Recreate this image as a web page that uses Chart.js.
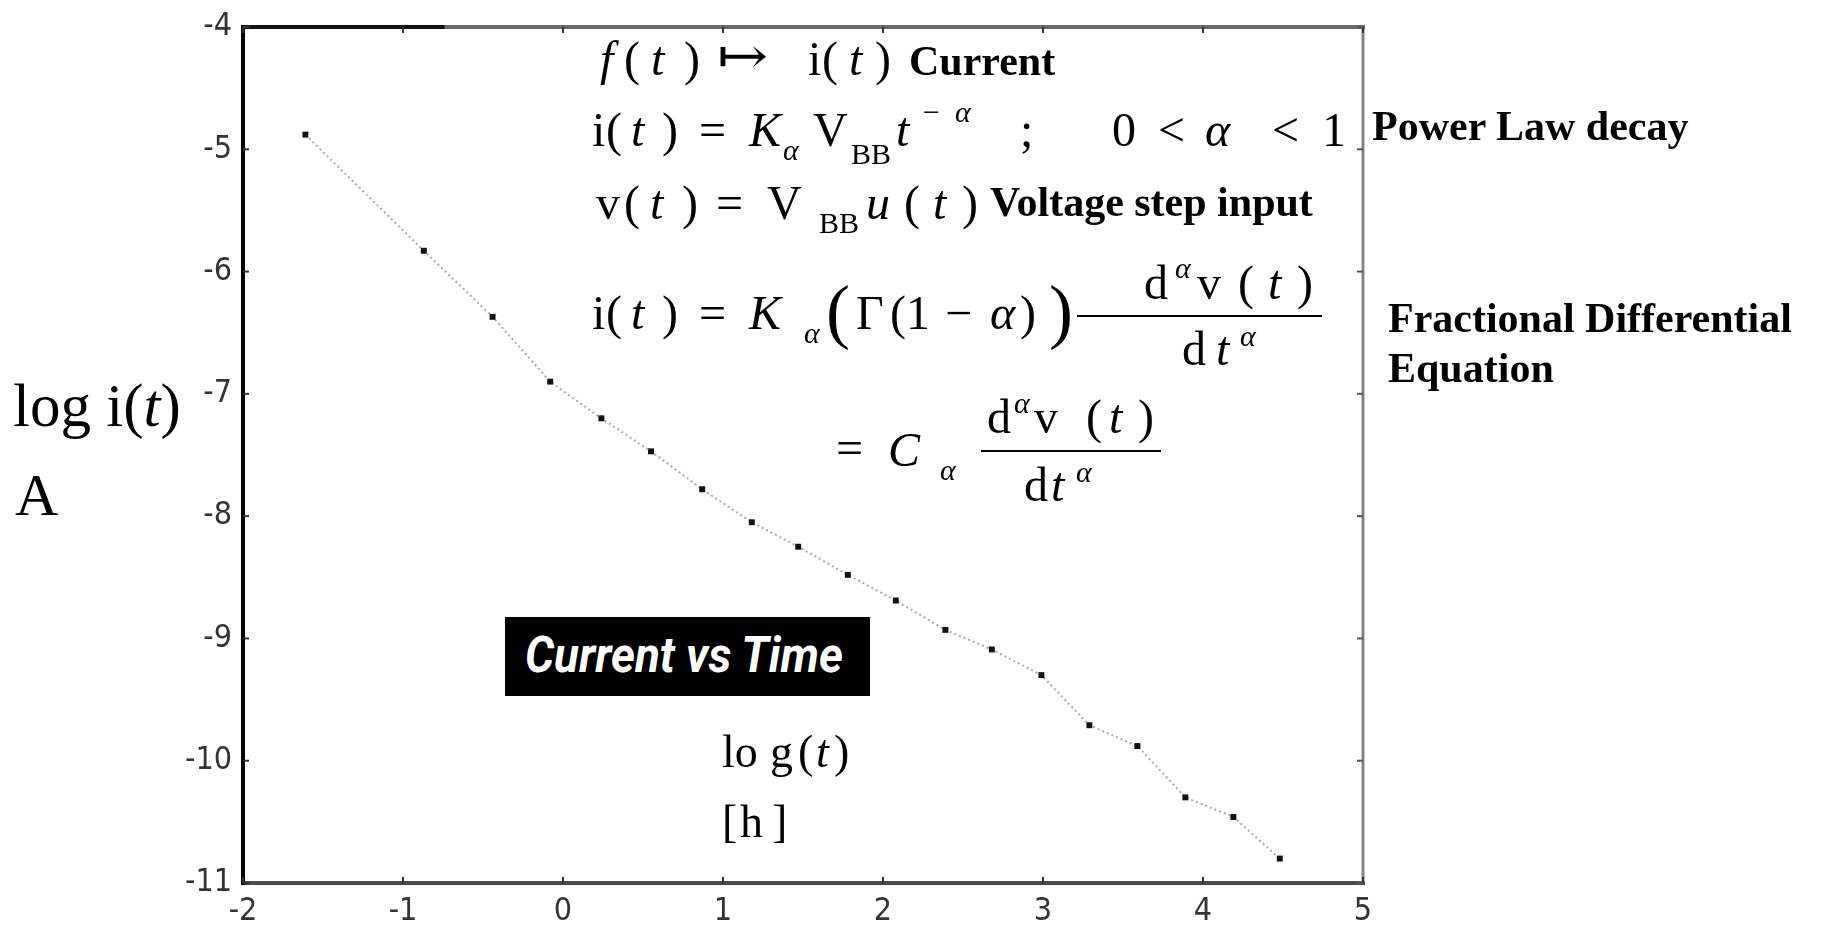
<!DOCTYPE html>
<html>
<head>
<meta charset="utf-8">
<script src="https://cdn.jsdelivr.net/npm/chart.js@4.4.1/dist/chart.umd.min.js"></script>
<style>
html,body{margin:0;padding:0;background:#fff;}
#wrap{position:relative;width:1821px;height:926px;overflow:hidden;background:#fff;}
#c{position:absolute;left:0;top:0;}
.t{position:absolute;white-space:pre;line-height:1;font-family:"Liberation Serif","Times New Roman",serif;color:#000;transform-origin:0 0;}
.b{font-weight:bold;}
.i{font-style:italic;}
.bar{position:absolute;height:2px;background:#000;}
#box{position:absolute;left:505px;top:617px;width:365px;height:79px;background:#000;}
#boxtxt{position:absolute;left:525px;white-space:pre;line-height:1;color:#fff;font-weight:bold;font-style:italic;
  font-family:"Liberation Sans Narrow","Roboto","Liberation Sans",sans-serif;font-size:49px;transform-origin:0 0;}
</style>
</head>
<body>
<div id="wrap">
  <canvas id="c" width="1821" height="926"></canvas>
  <div id="box"></div>
  <div id="boxtxt">Current vs Time</div>
</div>
<script>
// ---- data ----
const xTicks = [-2, -1, 0, 1, 2, 3, 4, 5];
const yTicks = [-4, -5, -6, -7, -8, -9, -10, -11];
const logT = [-1.61, -0.87, -0.44, -0.08, 0.24, 0.55, 0.87, 1.18, 1.47, 1.78, 2.08, 2.39, 2.68, 2.99, 3.29, 3.59, 3.89, 4.19, 4.48];
const logI = [-4.88, -5.83, -6.37, -6.90, -7.20, -7.47, -7.78, -8.05, -8.25, -8.48, -8.69, -8.93, -9.09, -9.30, -9.71, -9.88, -10.30, -10.46, -10.80];

const tickFont = { family: "'Liberation Sans Narrow','DejaVu Sans Condensed','Liberation Sans',sans-serif", size: 32, lineHeight: 1 };

const frame = {
  id: 'frame',
  afterDraw(chart) {
    const { ctx, chartArea: a, scales } = chart;
    ctx.save();
    const seg = (x1, y1, x2, y2, c, w) => {
      ctx.strokeStyle = c; ctx.lineWidth = w;
      ctx.beginPath(); ctx.moveTo(x1, y1); ctx.lineTo(x2, y2); ctx.stroke();
    };
    seg(a.left - 2, a.top, a.right + 2, a.top, '#6a6a6a', 4);
    seg(a.left - 2, a.top, a.left + (a.right - a.left) * 0.18, a.top, '#111', 4);
    seg(a.left - 2, a.bottom, a.right + 2, a.bottom, '#4a4a4a', 4);
    seg(a.right, a.top, a.right, a.bottom, '#858585', 3);
    seg(a.left, a.top - 2, a.left, a.bottom + 2, '#000', 4);
    const L = 6;
    scales.x.ticks.forEach(t => {
      const px = scales.x.getPixelForValue(t.value);
      seg(px, a.bottom, px, a.bottom - L, '#333', 2);
      seg(px, a.top, px, a.top + L, '#333', 2);
    });
    scales.y.ticks.forEach(t => {
      const py = scales.y.getPixelForValue(t.value);
      seg(a.left, py, a.left + L, py, '#333', 2);
      seg(a.right, py, a.right - L, py, '#555', 2);
    });
    ctx.restore();
  }
};

new Chart(document.getElementById('c'), {
  type: 'scatter',
  data: {
    datasets: [{
      data: logT.map((t, i) => ({ x: t, y: logI[i] })),
      showLine: true,
      borderColor: 'rgba(110,110,110,0.6)',
      borderWidth: 2,
      borderDash: [2, 3],
      pointStyle: 'rect',
      pointRadius: 4.2,
      pointBackgroundColor: '#111',
      pointBorderWidth: 0
    }]
  },
  options: {
    responsive: false,
    animation: false,
    devicePixelRatio: 1,
    layout: { padding: { left: 150, right: 458, top: 19, bottom: 0 } },
    plugins: { legend: { display: false }, tooltip: { enabled: false } },
    scales: {
      x: {
        type: 'linear', min: -2, max: 5,
        afterBuildTicks: s => { s.ticks = xTicks.map(v => ({ value: v })); },
        afterFit: s => { s.height = 43; },
        grid: { display: false, drawTicks: false },
        border: { display: false },
        ticks: { padding: 13, font: tickFont, color: '#333', autoSkip: false, maxRotation: 0, callback: v => String(v) }
      },
      y: {
        type: 'linear', min: -11, max: -4,
        afterBuildTicks: s => { s.ticks = yTicks.map(v => ({ value: v })); },
        afterFit: s => { s.width = 93; },
        grid: { display: false, drawTicks: false },
        border: { display: false },
        ticks: { padding: 11, font: tickFont, color: '#333', autoSkip: false, callback: v => String(v) }
      }
    }
  },
  plugins: [frame]
});

// ---- text annotations (real text) ----
const wrap = document.getElementById('wrap');
function put(html, x, base, size, cls, fam, sx) {
  const d = document.createElement('div');
  d.className = 't' + (cls ? ' ' + cls : '');
  d.innerHTML = html;
  d.style.left = x + 'px';
  d.style.fontSize = size + 'px';
  d.style.top = (base - 0.8375 * size) + 'px';
  if (fam) d.style.fontFamily = fam;
  if (sx) d.style.transform = 'scaleX(' + sx + ')';
  wrap.appendChild(d);
  return d;
}
function bar(x1, x2, y) {
  const d = document.createElement('div');
  d.className = 'bar';
  d.style.left = x1 + 'px'; d.style.width = (x2 - x1) + 'px'; d.style.top = (y - 1) + 'px';
  wrap.appendChild(d);
}
const F = 48, S = 30, B = 42;
// line 1
put('f', 600, 75, F, 'i'); put('(', 624, 75, F); put('t', 651, 75, F, 'i'); put(')', 684, 75, F);
put('\u21A6', 717, 73, 50, null, '"DejaVu Serif",serif', 1.22);
put('i', 808, 75, F); put('(', 822, 75, F); put('t', 849, 75, F, 'i'); put(')', 875, 75, F);
put('Current', 909, 75, B, 'b');
// line 2
put('i', 592, 146, F); put('(', 606, 146, F); put('t', 631, 146, F, 'i'); put(')', 662, 146, F);
put('=', 699, 146, F); put('K', 749, 146, F, 'i'); put('\u03B1', 783, 160, S, 'i');
put('V', 813, 146, F); put('B', 851, 164, S); put('B', 871, 164, S);
put('t', 896, 146, F, 'i'); put('\u2212', 923, 122, S); put('\u03B1', 955, 122, S, 'i');
put(';', 1020, 146, F); put('0', 1112, 146, F); put('&lt;', 1158, 146, F);
put('\u03B1', 1205, 146, F, 'i'); put('&lt;', 1272, 146, F); put('1', 1322, 146, F);
put('Power Law decay', 1372, 140, B, 'b');
// line 3
put('v', 596, 219, F); put('(', 624, 219, F); put('t', 650, 219, F, 'i'); put(')', 682, 219, F);
put('=', 716, 219, F); put('V', 767, 219, F); put('B', 819, 233, S); put('B', 839, 233, S);
put('u', 866, 219, F, 'i'); put('(', 904, 219, F); put('t', 933, 219, F, 'i'); put(')', 962, 219, F);
put('Voltage step input', 990, 216, B, 'b');
// line 4
put('i', 592, 329, F); put('(', 606, 329, F); put('t', 631, 329, F, 'i'); put(')', 662, 329, F);
put('=', 699, 329, F); put('K', 749, 329, F, 'i'); put('\u03B1', 804, 343, S, 'i');
put('(', 826, 335, 72); put('\u0393', 856, 329, F); put('(', 890, 329, F); put('1', 906, 329, F);
put('\u2212', 945, 329, F); put('\u03B1', 990, 329, F, 'i'); put(')', 1020, 329, F); put(')', 1049, 335, 72);
bar(1077, 1322, 316);
put('d', 1144, 299, F); put('\u03B1', 1175, 278, S, 'i'); put('v', 1197, 299, F);
put('(', 1238, 299, F); put('t', 1268, 299, F, 'i'); put(')', 1297, 299, F);
put('d', 1182, 365, F); put('t', 1216, 365, F, 'i'); put('\u03B1', 1240, 346, S, 'i');
put('Fractional Differential', 1388, 332, B, 'b');
put('Equation', 1388, 382, B, 'b');
// line 5
put('=', 836, 464, F); put('C', 888, 466, F, 'i'); put('\u03B1', 940, 480, S, 'i');
bar(981, 1161, 451);
put('d', 987, 433, F); put('\u03B1', 1014, 413, S, 'i'); put('v', 1034, 433, F);
put('(', 1086, 433, F); put('t', 1109, 433, F, 'i'); put(')', 1138, 433, F);
put('d', 1024, 501, F); put('t', 1051, 501, F, 'i'); put('\u03B1', 1076, 482, S, 'i');
// axis titles
put('log i(<i>t</i>)', 13, 426, 61);
put('A', 15, 515, 60);
put('lo', 722, 768, 46); put('g', 770, 768, 46); put('(', 798, 768, 46); put('t', 816, 768, 46, 'i'); put(')', 834, 768, 46);
put('[', 722, 838, 46); put('h', 740, 838, 46); put(']', 772, 838, 46);

// condensed white title in the black box
const bt = document.getElementById('boxtxt');
bt.style.top = (672 - 0.8465 * 49) + 'px';
const fit = () => { bt.style.transform = 'none'; const w = bt.getBoundingClientRect().width; bt.style.transform = 'scaleX(' + (318 / w) + ')'; };
fit();
if (document.fonts && document.fonts.ready) document.fonts.ready.then(fit);
</script>
</body>
</html>
